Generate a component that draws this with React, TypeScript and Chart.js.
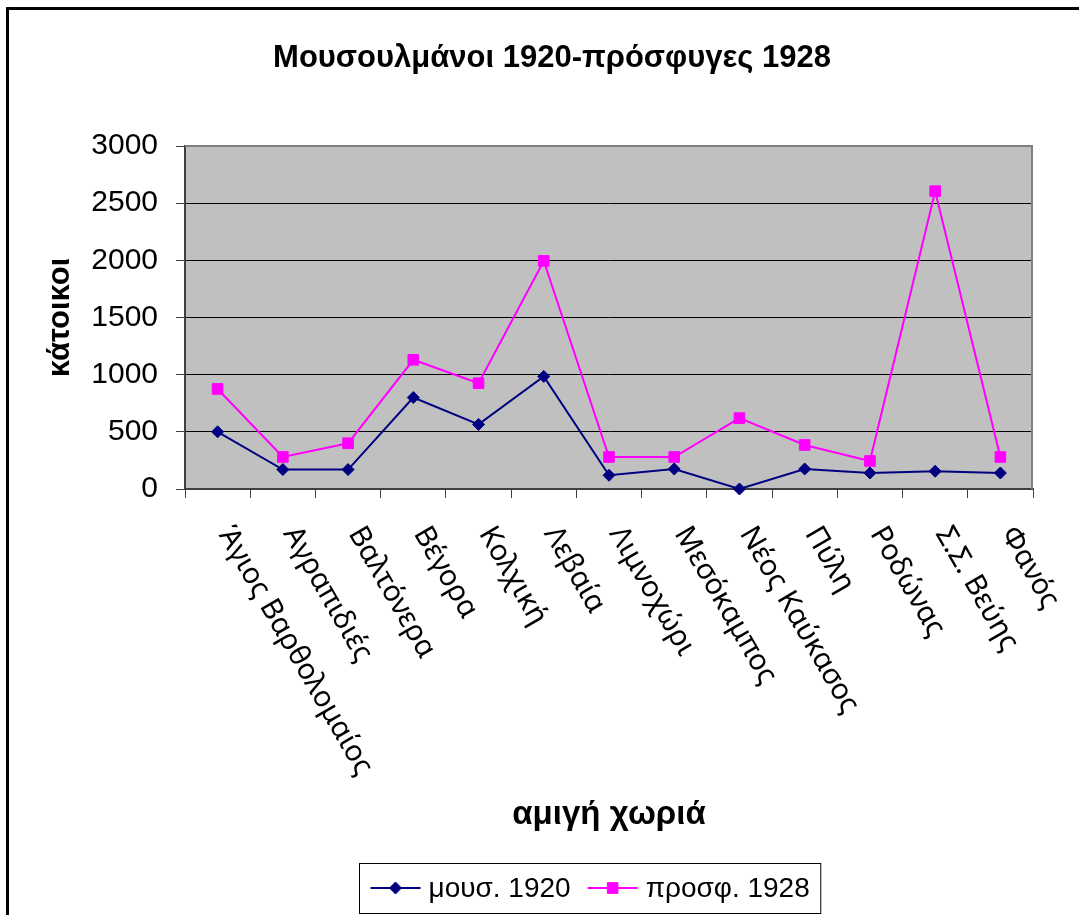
import React, { useEffect, useRef } from 'react';
import { Chart, registerables } from 'chart.js';

Chart.register(...registerables);

const categories = [
  'Άγιος Βαρθολομαίος',
  'Αγραπιδιές',
  'Βαλτόνερα',
  'Βέγορα',
  'Κολχική',
  'Λεβαία',
  'Λιμνοχώρι',
  'Μεσόκαμπος',
  'Νέος Καύκασος',
  'Πύλη',
  'Ροδώνας',
  'Σ.Σ. Βεύης',
  'Φανός',
];
const muslims1920 = [500, 170, 170, 800, 565, 985, 120, 175, 0, 175, 140, 155, 140];
const refugees1928 = [875, 280, 400, 1130, 925, 1995, 280, 280, 620, 385, 245, 2605, 280];
const seriesNames = ['μουσ. 1920', 'προσφ. 1928'];
const yMin = 0;
const yMax = 3000;
const yStep = 500;
const titleText = 'Μουσουλμάνοι 1920-πρόσφυγες 1928';
const xTitleText = 'αμιγή χωριά';
const yTitleText = 'κάτοικοι';

const ARIAL = "'Liberation Sans', Arial, sans-serif";
const LABEL_FONT = "'Noto Sans', sans-serif";
const W = 1104;
const H = 940;

const framePlugin = {
  id: 'frame',
  beforeDraw(chart: any) {
    const ctx = chart.ctx;
    ctx.save();
    ctx.fillStyle = '#ffffff';
    ctx.fillRect(0, 0, chart.width, chart.height);
    ctx.strokeStyle = '#000000';
    ctx.lineWidth = 3;
    ctx.strokeRect(7.5, 8.5, 1300, 1300);
    const { left, top, right, bottom } = chart.chartArea;
    ctx.fillStyle = '#C0C0C0';
    ctx.fillRect(left, top, right - left, bottom - top);
    ctx.restore();
  },
  beforeDatasetsDraw(chart: any) {
    const ctx = chart.ctx;
    const { left, top, right, bottom } = chart.chartArea;
    ctx.save();
    ctx.strokeStyle = '#808080';
    ctx.lineWidth = 2;
    ctx.beginPath();
    ctx.moveTo(left, top);
    ctx.lineTo(right - 1, top);
    ctx.lineTo(right - 1, bottom);
    ctx.stroke();
    ctx.restore();
  },
  afterDraw(chart: any) {
    const ctx = chart.ctx;
    ctx.save();
    ctx.font = `bold 31px ${ARIAL}`;
    ctx.fillStyle = '#000';
    ctx.textAlign = 'center';
    ctx.textBaseline = 'middle';
    ctx.fillText(titleText, 552, 58);
    ctx.restore();
  },
};

const xLabelPlugin = {
  id: 'xLabels',
  afterDraw(chart: any) {
    const ctx = chart.ctx;
    const xs = chart.scales.x;
    const labels = chart.data.labels as string[];
    ctx.save();
    ctx.font = `29px ${LABEL_FONT}`;
    ctx.fillStyle = '#000';
    ctx.textAlign = 'left';
    ctx.textBaseline = 'middle';
    labels.forEach((lab, i) => {
      const x = xs.getPixelForValue(i);
      ctx.save();
      ctx.translate(x + 7, chart.chartArea.bottom + 40);
      ctx.rotate(Math.PI / 3);
      ctx.fillText(lab, 0, 0);
      ctx.restore();
    });
    ctx.restore();
  },
};

function drawMarker(ctx: CanvasRenderingContext2D, style: string, x: number, y: number, r: number) {
  ctx.beginPath();
  if (style === 'rectRot') {
    ctx.moveTo(x, y - r);
    ctx.lineTo(x + r, y);
    ctx.lineTo(x, y + r);
    ctx.lineTo(x - r, y);
    ctx.closePath();
  } else {
    const s = r * Math.SQRT1_2;
    ctx.rect(x - s, y - s, 2 * s, 2 * s);
  }
  ctx.fill();
  ctx.stroke();
}

const legendPlugin = {
  id: 'boxLegend',
  afterDraw(chart: any) {
    const ctx = chart.ctx;
    const ds = chart.data.datasets;
    ctx.save();
    ctx.font = `28px ${ARIAL}`;
    const lineLen = 50;
    const gap = 8;
    const itemGap = 17;
    const pad = 11;
    const widths = ds.map((d: any) => ctx.measureText(d.label).width);
    let total = pad * 2;
    widths.forEach((w: number, i: number) => {
      total += lineLen + gap + w + (i > 0 ? itemGap : 0);
    });
    const cx = 590;
    const cy = 888;
    const boxH = 50;
    const x0 = Math.round(cx - total / 2) + 0.5;
    ctx.strokeStyle = '#000';
    ctx.lineWidth = 1;
    ctx.strokeRect(x0, cy - boxH / 2 + 0.5, total, boxH);
    let x = x0 + pad;
    ds.forEach((d: any, i: number) => {
      if (i > 0) x += itemGap;
      ctx.strokeStyle = d.borderColor;
      ctx.lineWidth = 2;
      ctx.beginPath();
      ctx.moveTo(x, cy);
      ctx.lineTo(x + lineLen, cy);
      ctx.stroke();
      ctx.fillStyle = d.pointBackgroundColor;
      ctx.strokeStyle = d.pointBorderColor;
      ctx.lineWidth = 1;
      drawMarker(ctx, d.pointStyle, x + lineLen / 2, cy, d.pointRadius);
      x += lineLen + gap;
      ctx.fillStyle = '#000';
      ctx.textAlign = 'left';
      ctx.textBaseline = 'middle';
      ctx.fillText(d.label, x, cy + 1);
      x += widths[i];
    });
    ctx.restore();
  },
};

export default function App() {
  const ref = useRef<HTMLCanvasElement>(null);

  useEffect(() => {
    if (!ref.current) return;
    const chart = new Chart(ref.current, {
      type: 'line',
      data: {
        labels: categories,
        datasets: [
          {
            label: seriesNames[0],
            data: muslims1920,
            borderColor: '#000080',
            backgroundColor: '#000080',
            borderWidth: 2,
            pointStyle: 'rectRot',
            pointRadius: 6,
            pointBorderWidth: 1,
            pointBackgroundColor: '#000080',
            pointBorderColor: '#000080',
            tension: 0,
            clip: false,
          } as any,
          {
            label: seriesNames[1],
            data: refugees1928,
            borderColor: '#FF00FF',
            backgroundColor: '#FF00FF',
            borderWidth: 2,
            pointStyle: 'rect',
            pointRadius: 7.5,
            pointBorderWidth: 1,
            pointBackgroundColor: '#FF00FF',
            pointBorderColor: '#FF00FF',
            tension: 0,
            clip: false,
          } as any,
        ],
      },
      options: {
        responsive: false,
        animation: false,
        devicePixelRatio: 1,
        layout: { padding: { left: 20, right: 71, top: 146, bottom: 105 } },
        plugins: {
          legend: { display: false },
          tooltip: { enabled: false },
          title: { display: false },
        },
        scales: {
          x: {
            type: 'category',
            offset: true,
            grid: {
              offset: true,
              drawOnChartArea: false,
              drawTicks: true,
              tickLength: 9,
              color: '#404040',
              lineWidth: 1,
            },
            border: { color: '#404040', width: 2 },
            ticks: { display: false },
            title: {
              display: true,
              text: xTitleText,
              color: '#000',
              font: { family: ARIAL, size: 33, weight: 'bold' },
              padding: { top: 0, bottom: 0.2 },
            },
            afterFit: (s: any) => {
              s.height = 346;
            },
          },
          y: {
            min: yMin,
            max: yMax,
            ticks: {
              stepSize: yStep,
              color: '#000',
              font: { family: ARIAL, size: 30 },
              padding: 18,
              callback: (v: any) => String(v),
            },
            grid: {
              color: '#000',
              lineWidth: 1,
              drawTicks: true,
              tickLength: 9,
              tickColor: '#404040',
            },
            border: { color: '#404040', width: 2 },
            title: {
              display: true,
              text: yTitleText,
              color: '#000',
              font: { family: ARIAL, size: 31, weight: 'bold' },
              padding: { top: 21.4, bottom: 0 },
            },
            afterFit: (s: any) => {
              s.width = 165;
            },
          },
        },
      } as any,
      plugins: [framePlugin, xLabelPlugin, legendPlugin],
    });
    return () => chart.destroy();
  }, []);

  return (
    <div
      style={{
        position: 'fixed',
        left: 0,
        top: 0,
        width: 1079,
        height: 915,
        overflow: 'hidden',
        background: '#fff',
      }}
    >
      <canvas ref={ref} width={W} height={H} style={{ width: W, height: H, display: 'block' }} />
    </div>
  );
}
